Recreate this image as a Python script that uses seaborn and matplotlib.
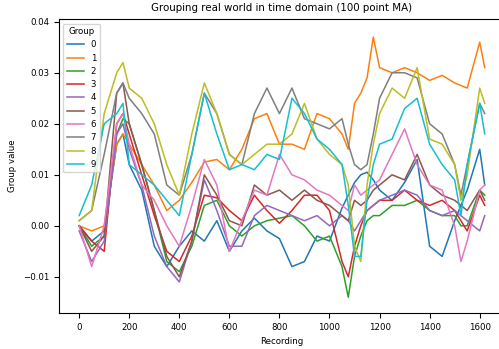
import pandas as pd
import matplotlib
matplotlib.use("Agg")
import matplotlib.pyplot as plt
import seaborn as sns

# recording positions (shared by all groups)
recording = [0, 50, 100, 150, 175, 200, 250, 300, 350, 400, 450, 500, 550, 600, 650,
             700, 750, 800, 850, 900, 950, 1000, 1050, 1075, 1100, 1125, 1150, 1175,
             1200, 1250, 1300, 1350, 1400, 1450, 1500, 1525, 1550, 1600, 1620]

# group values (in units of 1e-3)
g0 = [0, -3, -1, 16, 18, 12, 7, -4, -8, -4, -1, -3, 1, -5, -1, 1.5, -1, -2.5, -8, -7, -2, -3,
      3.5, 6, 8.5, 10, 10.5, 9, 7, 5, 8.5, 13, -4, -6, 1, 4, 7, 15, 8]
g1 = [0, -1, 0, 16, 18, 16, 12, 8, 3, 5, 8.5, 12.5, 13, 11, 15, 21, 22, 16, 16, 15, 22, 21,
      18, 15, 24, 26, 29, 37, 31, 30, 31, 30, 28.5, 29.5, 28, 27.5, 27, 36, 31]
g2 = [0, -4, -2, 18, 21, 20, 12, 3, -7, -9, -4, 4, 5, 0, -2, 0, 1, 1.5, 2, 0, -3, -2,
      -8, -14, -6, -2, 1, 2, 2, 4, 4, 5, 3, 2, 2, 0, 0, 7, 6]
g3 = [0, -3, -5, 20, 22, 18, 10, 2, -5, -7, -2, 6, 5.5, 3, 1, 6, 3, 0.5, 3, 6, 6, 3,
      -7, -10, -4, 0, 3, 4, 5, 5, 7, 5, 4, 5, 3, 1, -1, 6, 4]
g4 = [-1, -7, -3, 18, 20, 15, 8, -2, -8, -11, -3, 9, 3, -4, -4, 2, 4, 3, 2, 1, 2, 0,
      2, 1, -1, 1, 3, 4, 5, 6, 7, 6, 3, 2, 3, 2, 1, -1, 2]
g5 = [0, -5, -2, 26, 28, 20, 12, 3, -6, -10, -3, 10, 6, 1, 0, 8, 6, 7, 5, 7, 5, 4,
      2, 1, 5, 4, 5, 7, 8, 10, 9, 14, 8, 6, 5, 4, 3, 7, 5]
g6 = [0, -8, 0, 20, 22, 16, 8, 5, 0, -4, 4, 13, 8, -5, 1, 7, 6, 14, 10, 9, 7, 6,
      4, 3, 8, 6, 7, 8, 9, 14, 19, 12, 8, 7, 0, -7, -3, 7, 8]
g7 = [1, 3, 14, 26, 28, 25, 22, 18, 8, 6, 14, 26, 22, 14, 12, 22, 27, 22, 27, 21, 20, 19,
      21, 16, 12, 11, 12, 18, 25, 30, 30, 29, 20, 18, 12, 6, 12, 24, 22]
g8 = [1, 3, 22, 30, 32, 27, 25, 20, 12, 6, 18, 28, 22, 14, 12, 14, 16, 16, 18, 24, 17, 14,
      12, 8, -4, -7, 8, 16, 22, 27, 25, 31, 17, 16, 12, 5, 10, 27, 24]
g9 = [2, 8, 20, 22, 24, 12, 10, 8, 5, 2, 14, 26, 18, 11, 12, 11, 14, 13, 25, 22, 17, 15,
      12, 4, -6, -6, 5, 12, 16, 17, 23, 25, 16, 12, 9, 2, 12, 24, 18]

groups = [g0, g1, g2, g3, g4, g5, g6, g7, g8, g9]
frames = []
for i, vals in enumerate(groups):
    frames.append(pd.DataFrame({"Recording": recording,
                                "Group value": [v / 1000 for v in vals],
                                "Group": str(i)}))
df = pd.concat(frames, ignore_index=True)

plt.rcParams['font.size'] = 6.2
fig = plt.figure(figsize=(4.99, 3.49), dpi=100)
ax = fig.add_axes([0.118, 0.103, 0.894, 0.842])

sns.lineplot(data=df, x="Recording", y="Group value", hue="Group",
             palette="tab10", estimator=None, linewidth=1.1, ax=ax)

ax.set_xlim(-81, 1701)
ax.set_ylim(-0.0171, 0.0405)
ax.set_xticks(range(0, 1601, 200))
ax.set_title("Grouping real world in time domain (100 point MA)", fontsize=7.4)
ax.legend(title="Group", loc="upper left", fontsize=6.2, title_fontsize=6.2)

fig.savefig("out.png", dpi=100)
